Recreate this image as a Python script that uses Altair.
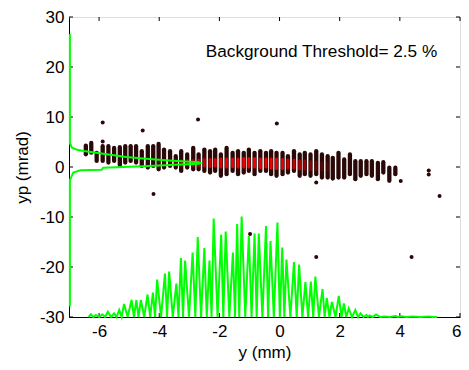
import altair as alt
import pandas as pd

# scatter columns (y position in mm, yp extent in mrad)
col_x = [-6.44, -6.26, -6.08, -5.88, -5.69, -5.50, -5.31, -5.13, -4.95, -4.77, -4.58, -4.38, -4.20, -4.02,
         -3.84, -3.64, -3.45, -3.27, -3.07, -2.87, -2.69, -2.50, -2.31, -2.14, -1.95, -1.76, -1.56, -1.38,
         -1.19, -1.02, -0.83, -0.64, -0.45, -0.28, -0.10, 0.10, 0.28, 0.48, 0.67, 0.84, 1.03, 1.22, 1.41,
         1.60, 1.77, 1.96, 2.15, 2.34, 2.52, 2.70, 2.89, 3.07, 3.27, 3.45, 3.65, 3.85]
col_top = [4.28, 4.81, 2.83, 4.15, 4.15, 3.82, 3.95, 4.15, 4.15, 4.15, 3.16, 4.15, 4.15, 4.61,
           3.49, 3.16, 2.16, 3.16, 2.50, 3.82, 2.50, 3.49, 3.16, 3.49, 2.50, 3.82, 2.83, 3.16,
           2.83, 3.49, 2.83, 3.16, 2.83, 3.16, 2.83, 2.83, 2.16, 3.16, 2.50, 2.83, 2.50, 3.16, 2.50,
           2.16, 1.83, 2.83, 1.50, 2.50, 1.17, 1.17, 1.17, 1.17, 0.84, 0.97, -0.15, -0.15]
col_bot = [2.53, 2.86, 1.21, 1.21, 0.88, 1.21, 0.41, 0.88, 1.21, 0.88, 0.21, -0.12, 0.21, -0.45,
           -0.12, 0.21, -0.12, -0.78, -0.12, -0.45, -0.45, -0.78, -1.11, -0.78, -1.77, -1.44, -0.78, -1.44,
           -1.11, -0.78, -1.44, -0.78, -0.78, -1.44, -1.77, -1.44, -1.11, -0.78, -1.77, -1.44, -1.77, -1.44, -2.10,
           -2.10, -2.30, -2.10, -2.10, -1.44, -2.43, -1.77, -1.44, -1.77, -2.43, -1.11, -2.77, -1.44]

# dense red core
red_x = [-4.02, -3.84, -3.64, -3.45, -3.27, -3.07, -2.87, -2.69, -2.50, -2.31, -2.14, -1.95, -1.76, -1.56,
         -1.38, -1.19, -1.02, -0.83, -0.64, -0.45, -0.28, -0.10, 0.10, 0.28, 0.48, 0.67, 0.84, 1.03, 1.22,
         1.41, 1.60]
red_top = [1.0, 1.2, 1.2, 1.2, 1.3, 1.3, 1.3, 1.4, 1.5, 1.5, 1.5, 1.6, 1.6, 1.6,
           1.6, 1.7, 1.7, 1.7, 1.6, 1.6, 1.6, 1.6, 1.5, 1.4, 1.4, 1.2, 1.2, 1.1, 1.0, 0.9, 0.8]
red_bot = [0.2, 0.4, 0.5, 0.5, 0.3, 0.4, 0.3, 0.3, 0.2, 0.1, 0.2, 0.0, 0.0, 0.1,
           0.0, 0.0, 0.0, 0.0, -0.1, 0.0, -0.2, -0.3, -0.3, -0.2, -0.2, -0.4, -0.4, -0.5, -0.5, -0.6, -0.6]
red_alpha = [0.2, 0.25, 0.3, 0.35, 0.4, 0.45, 0.55, 0.65, 0.7, 0.8, 0.85, 0.85, 0.9, 0.9,
             0.9, 0.9, 0.95, 0.95, 0.95, 0.9, 0.9, 0.9, 0.85, 0.75, 0.7, 0.6, 0.5, 0.4, 0.3, 0.2, 0.15]

# isolated points
pt_x = [-5.88, -5.88, -4.55, -4.19, -2.71, -0.09, -0.98, 1.22, 4.39, 4.03, 4.96, 4.96, 5.32, 1.22]
pt_y = [8.9, 5.1, 7.3, -5.4, 9.5, 8.7, -13.4, -18.0, -18.0, -2.8, -0.7, -1.5, -5.8, -3.1]

# y projection (bottom green histogram), plotted in yp units
hist_x = [-6.35, -6.27, -6.19, -6.11, -6.00, -5.89, -5.80, -5.71, -5.60, -5.50, -5.42, -5.33,
          -5.25, -5.17, -5.05, -4.92, -4.84, -4.76, -4.69, -4.61, -4.50, -4.39, -4.30, -4.21,
          -4.14, -4.07, -3.94, -3.81, -3.74, -3.67, -3.55, -3.43, -3.36, -3.28, -3.21, -3.14,
          -3.01, -2.89, -2.80, -2.72, -2.61, -2.50, -2.42, -2.33, -2.26, -2.19, -2.06, -1.94,
          -1.87, -1.79, -1.67, -1.55, -1.48, -1.41, -1.34, -1.26, -1.14, -1.02, -0.93, -0.83,
          -0.76, -0.69, -0.57, -0.45, -0.38, -0.30, -0.19, -0.07, 0.01, 0.09, 0.16, 0.23,
          0.36, 0.48, 0.57, 0.65, 0.76, 0.86, 0.95, 1.04, 1.12, 1.19, 1.31, 1.43,
          1.50, 1.57, 1.66, 1.74, 1.86, 1.97, 2.06, 2.14, 2.22, 2.30, 2.41, 2.52,
          2.61, 2.69, 2.79, 2.89, 2.94, 2.99, 3.10, 3.21, 3.35, 3.48, 3.67, 3.85,
          3.94, 4.03, 4.22, 4.42, 4.69, 4.96, 5.10, 5.24]
hist_y = [-30, -29.46, -30, -29.6, -30, -29.46, -30, -28.95, -30, -29.27, -30, -28.6,
          -30, -27.4, -30, -26.6, -30, -26.6, -30, -26.6, -30, -25.5, -30, -25.1,
          -30, -22.5, -30, -21.3, -30, -20.9, -30, -23.3, -30, -18.2, -30, -18.7,
          -30, -17.1, -30, -14.0, -30, -16.2, -30, -18.7, -30, -10.3, -30, -13.5,
          -30, -12.9, -30, -17.1, -30, -11.4, -30, -9.9, -30, -13.8, -30, -13.3,
          -30, -13.3, -30, -11.8, -30, -14.8, -30, -11.1, -30, -16.1, -30, -18.5,
          -30, -19.0, -30, -19.5, -30, -23.0, -30, -22.9, -30, -21.9, -30, -24.4,
          -30, -26.2, -30, -27.0, -30, -25.8, -30, -27.3, -30, -28.3, -30, -28.6,
          -30, -29.3, -30, -29.6, -30, -29.7, -30, -29.5, -30, -29.9, -30, -29.8,
          -30, -29.85, -30, -29.9, -30, -29.9, -30, -30]

# yp projection (left green profile), plotted in mm units
prof_yp = [26.6, 4.8, 4.5, 3.84, 3.44, 3.18, 2.65, 1.98, 1.65, 1.32, 0.93, 0.8, 0.66, 0.13,
           -0.14, -0.53, -0.67, -1.13, -2.12, -2.6, -27.9]
prof_x = [-6.97, -6.97, -6.95, -6.90, -6.73, -6.51, -5.86, -5.09, -4.44, -3.67, -2.69, -2.63, -2.69, -4.55,
          -5.86, -5.91, -6.62, -6.86, -6.93, -6.97, -6.97]

x_ticks = [-6, -4, -2, 0, 2, 4, 6]
y_ticks = [-30, -20, -10, 0, 10, 20, 30]
annot = ["Background Threshold= 2.5 %"]

W, H = 391, 300
FONT = "Liberation Sans"

xs = alt.Scale(domain=[-7, 6], nice=False, zero=False)
ys = alt.Scale(domain=[-30, 30], nice=False, zero=False)

xaxis = alt.Axis(title="y (mm)", values=x_ticks, labelExpr="'' + datum.value", ticks=False,
                 grid=False, labelPadding=6, titlePadding=5, labelFlush=True, labelFlushOffset=1,
                 domainColor="black",
                 labelColor="black", titleColor="black", labelFontSize=17, titleFontSize=17,
                 labelFont=FONT, titleFont=FONT, titleFontWeight="normal")
yaxis = alt.Axis(title="yp (mrad)", values=y_ticks, labelExpr="'' + datum.value", ticks=False,
                 grid=False, labelPadding=5, titlePadding=8, labelFlush=False, domainColor="black",
                 labelColor="black", titleColor="black", labelFontSize=17, titleFontSize=17,
                 labelFont=FONT, titleFont=FONT, titleFontWeight="normal")

cols = pd.DataFrame({"x": col_x, "top": col_top, "bot": col_bot})
reds = pd.DataFrame({"x": red_x, "top": red_top, "bot": red_bot, "a": red_alpha})
pts = pd.DataFrame({"x": pt_x, "y": pt_y})
hist = pd.DataFrame({"x": hist_x, "y": hist_y})
prof = pd.DataFrame({"x": prof_x, "y": prof_yp, "i": list(range(len(prof_x)))})
xt = pd.DataFrame({"v": x_ticks})
yt = pd.DataFrame({"v": y_ticks})
txt = pd.DataFrame({"x": [-2.45], "y": [22.05], "t": annot})

DOT = "#2b0808"

base_cols = alt.Chart(cols).mark_rule(color=DOT, strokeWidth=4.3, strokeCap="round").encode(
    x=alt.X("x:Q", scale=xs, axis=xaxis),
    y=alt.Y("top:Q", scale=ys, axis=yaxis),
    y2="bot:Q",
)
red_layer = alt.Chart(reds).mark_rule(color="#ff0000", strokeWidth=3, strokeCap="round").encode(
    x="x:Q", y="top:Q", y2="bot:Q",
    opacity=alt.Opacity("a:Q", scale=None, legend=None),
)
pt_layer = alt.Chart(pts).mark_circle(color=DOT, size=16, opacity=1).encode(x="x:Q", y="y:Q")
hist_layer = alt.Chart(hist).mark_line(color="#00ff00", strokeWidth=2, clip=False).encode(
    x="x:Q", y="y:Q", order="x:Q")
prof_layer = alt.Chart(prof).mark_line(color="#00ff00", strokeWidth=2, clip=False).encode(
    x="x:Q", y="y:Q", order="i:Q")
text_layer = alt.Chart(txt).mark_text(align="left", baseline="alphabetic", fontSize=17.2,
                                      font=FONT, color="black").encode(x="x:Q", y="y:Q", text="t:N")

tk = 4
xb = alt.Chart(xt).mark_rule(color="black").encode(x="v:Q", y=alt.value(H), y2=alt.value(H - tk))
xtop = alt.Chart(xt).mark_rule(color="black").encode(x="v:Q", y=alt.value(0), y2=alt.value(tk))
yl = alt.Chart(yt).mark_rule(color="black").encode(y="v:Q", x=alt.value(0), x2=alt.value(tk))
yr = alt.Chart(yt).mark_rule(color="black").encode(y="v:Q", x=alt.value(W), x2=alt.value(W - tk))

chart = alt.layer(base_cols, red_layer, pt_layer, xb, xtop, yl, yr, hist_layer, prof_layer, text_layer).properties(
    width=W, height=H,
    autosize=alt.AutoSizeParams(type="none"),
    padding={"left": 61, "top": 9, "right": 1, "bottom": 53},
).configure_view(stroke="black", strokeWidth=1.2).configure(background="white")

chart.save("out.html", embed_options={"renderer": "svg", "actions": False})
